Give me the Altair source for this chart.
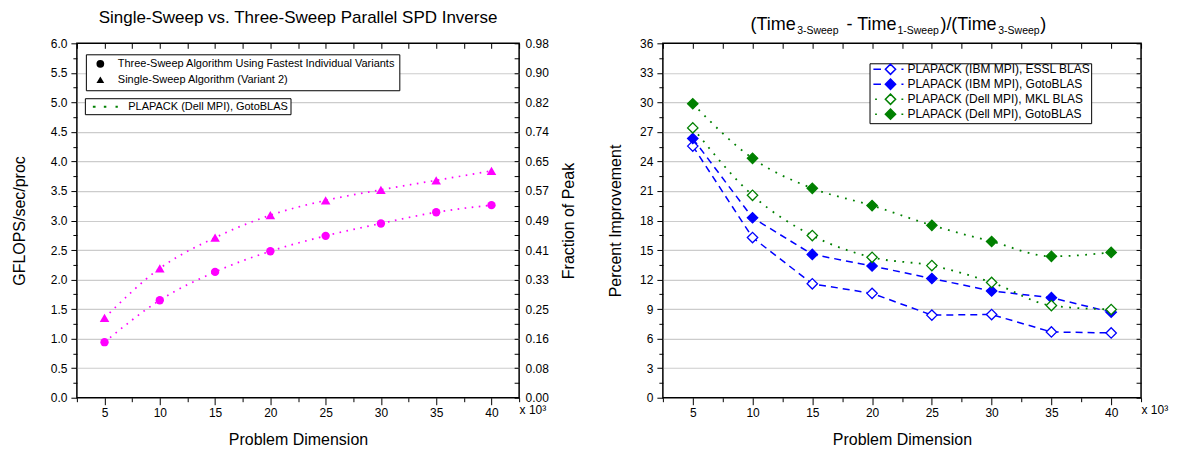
import altair as alt
import pandas as pd

FONT = "Liberation Sans"

# ---------------- data ----------------
dims = [5, 10, 15, 20, 25, 30, 35, 40]

left_series = [
    "Three-Sweep Algorithm Using Fastest Individual Variants",
    "Single-Sweep Algorithm (Variant 2)",
]
three_sweep_gflops = [0.94, 1.65, 2.13, 2.48, 2.74, 2.95, 3.14, 3.26]
single_sweep_gflops = [1.35, 2.19, 2.71, 3.09, 3.34, 3.52, 3.68, 3.84]
left_platform = ["PLAPACK (Dell MPI), GotoBLAS"]
peak_gflops = 6.12

right_series = [
    "PLAPACK (IBM MPI), ESSL BLAS",
    "PLAPACK (IBM MPI), GotoBLAS",
    "PLAPACK (Dell MPI), MKL BLAS",
    "PLAPACK (Dell MPI), GotoBLAS",
]
ibm_essl = [25.56, 16.27, 11.57, 10.60, 8.39, 8.45, 6.68, 6.58]
ibm_goto = [26.33, 18.28, 14.56, 13.38, 12.11, 10.84, 10.16, 8.69]
dell_mkl = [27.41, 20.56, 16.47, 14.26, 13.42, 11.71, 9.36, 8.96]
dell_goto = [29.86, 24.32, 21.27, 19.52, 17.51, 15.87, 14.36, 14.76]

left_title = "Single-Sweep vs. Three-Sweep Parallel SPD Inverse"
right_title_parts = ["(Time", "3-Sweep", "- Time", "1-Sweep", ")/(Time", "3-Sweep", ")"]
x_title = "Problem Dimension"
left_y_title = "GFLOPS/sec/proc"
left_y2_title = "Fraction of Peak"
right_y_title = "Percent Improvement"
x_unit_label = "x 10\u00b3"

# ---------------- tables ----------------
left_df = pd.DataFrame({
    "dim": dims * 2,
    "gflops": three_sweep_gflops + single_sweep_gflops,
    "series": [left_series[0]] * len(dims) + [left_series[1]] * len(dims),
})
right_vals = [ibm_essl, ibm_goto, dell_mkl, dell_goto]
right_df = pd.DataFrame({
    "dim": dims * 4,
    "pct": [v for s in right_vals for v in s],
    "series": [name for name in right_series for _ in dims],
})

# ---------------- styling helpers ----------------
MAGENTA = "#FF00FF"
BLUE = "#0000FF"
GREEN = "#008000"

X_TICKS = [2.5 * i for i in range(1, 18)]
Y_TICKS_L = [0.25 * i for i in range(25)]
Y_TICKS_R = [1.5 * i for i in range(25)]

x_scale = alt.Scale(domain=[2.5, 42.5], nice=False, zero=False)
yl_scale = alt.Scale(domain=[0, 6], nice=False)
yr_scale = alt.Scale(domain=[0, 36], nice=False)

NB = "\u00a0"


def bottom_axis():
    return alt.Axis(
        orient="bottom", values=X_TICKS, title=x_title,
        labelExpr=f"datum.value == 42.5 ? '{NB}{NB}{x_unit_label}' : (datum.value % 5 == 0 ? format(datum.value, 'd') : '')",
        labelAlign={"condition": {"test": "datum.value == 42.5", "value": "left"}, "value": "center"},
        labelOverlap=False, labelFlush=False, labelBound=False,
        tickSize={"condition": {"test": "datum.value % 5 != 0", "value": 4}, "value": 7},
        labelPadding=3, titlePadding=13, domain=False, grid=False,
    )


def top_axis():
    return alt.Axis(orient="top", values=X_TICKS, labels=False, title=None,
                    tickSize=5, offset=-5, domain=False, grid=False)


def left_axis(ticks, step, top, fmt, title, title_pad):
    minor = f"datum.value % {step} != 0"
    return alt.Axis(
        orient="left", values=ticks, title=title,
        labelExpr=f"datum.value % {step} == 0 ? format(datum.value, '{fmt}') : ''",
        tickSize={"condition": {"test": minor, "value": 4}, "value": 6},
        labelPadding=4, titlePadding=title_pad, domain=False, labelOverlap=False, labelFlush=False,
        grid=True,
        gridOpacity={"condition": {"test": f"{minor} || datum.value <= 0 || datum.value >= {top}", "value": 0}, "value": 1},
    )


# ---------------- left chart ----------------
left_lines = alt.Chart(left_df).mark_line(
    color=MAGENTA, strokeDash=[1.6, 5.5], strokeWidth=1.7, interpolate="monotone"
).encode(
    x=alt.X("dim:Q", scale=x_scale, axis=bottom_axis()),
    y=alt.Y("gflops:Q", scale=yl_scale, axis=left_axis(Y_TICKS_L, 0.5, 6, ".1f", left_y_title, 23)),
    detail="series:N",
)

left_points = alt.Chart(left_df).mark_point(filled=True, color=MAGENTA, opacity=1).encode(
    x=alt.X("dim:Q", scale=x_scale, axis=top_axis()),
    y=alt.Y("gflops:Q", scale=yl_scale, axis=alt.Axis(
        orient="right", values=Y_TICKS_L, title=left_y2_title,
        labelExpr=f"datum.value % 0.5 == 0 ? format(datum.value / {peak_gflops}, '.2f') : ''",
        tickSize=5, offset=-5, labelPadding=6, titlePadding=12,
        titleAngle=270, titleBaseline="top",
        domain=False, grid=False, labelOverlap=False, labelFlush=False)),
    shape=alt.Shape("series:N", scale=alt.Scale(domain=left_series, range=["circle", "triangle-up"]), legend=None),
    size=alt.Size("series:N", scale=alt.Scale(domain=left_series, range=[70, 92]), legend=None),
)

left_leg1 = alt.Chart(left_df).transform_filter("false").mark_point(
    filled=True, color="black", opacity=1
).encode(
    shape=alt.Shape("series:N", scale=alt.Scale(domain=left_series, range=["circle", "triangle-up"]),
                    legend=alt.Legend(title=None, orient="none", legendX=9, legendY=11,
                                      symbolSize=60, padding=4, symbolOffset=5, labelOffset=12,
                                      rowPadding=2, labelFontSize=11, labelFont=FONT, labelColor="black",
                                      strokeColor="black", fillColor="white", labelLimit=500)),
)

dots_path = "M-2.5,0H-1.96M-0.3,0H0.2M2.04,0H2.5"
left_leg2 = alt.Chart(left_df).transform_filter("false").mark_point(
    filled=False, color=GREEN, strokeWidth=2, opacity=1
).encode(
    shape=alt.Shape("platform:N", scale=alt.Scale(domain=left_platform, range=[dots_path]),
                    legend=alt.Legend(title=None, orient="none", legendX=8, legendY=55,
                                      symbolSize=100, symbolStrokeWidth=2, padding=2.5,
                                      symbolOffset=12, labelOffset=17, labelFontSize=11,
                                      labelFont=FONT, labelColor="black", strokeColor="black",
                                      fillColor="white", labelLimit=500)),
)

left_chart = alt.layer(left_lines, left_points, left_leg1, left_leg2).resolve_scale(
    shape="independent"
).resolve_axis(x="independent", y="independent").properties(
    width=443, height=355,
    title=alt.Title(left_title, fontSize=17, font=FONT, fontWeight="normal", color="black",
                    frame="group", offset=10, anchor="middle"),
)

# ---------------- right chart ----------------
color_scale = alt.Scale(domain=right_series, range=[BLUE, BLUE, GREEN, GREEN])
fill_scale = alt.Scale(domain=right_series, range=["white", BLUE, "white", GREEN])

blue_lines = alt.Chart(right_df).transform_filter(
    alt.FieldOneOfPredicate(field="series", oneOf=right_series[:2])
).mark_line(strokeDash=[7, 5], strokeWidth=1.5).encode(
    x=alt.X("dim:Q", scale=x_scale, axis=bottom_axis()),
    y=alt.Y("pct:Q", scale=yr_scale, axis=left_axis(Y_TICKS_R, 3, 36, "d", right_y_title, 16)),
    color=alt.Color("series:N", scale=color_scale, legend=None),
)

green_lines = alt.Chart(right_df).transform_filter(
    alt.FieldOneOfPredicate(field="series", oneOf=right_series[2:])
).mark_line(strokeDash=[1.8, 6.5], strokeWidth=1.8, interpolate="monotone").encode(
    x=alt.X("dim:Q", scale=x_scale, axis=None),
    y=alt.Y("pct:Q", scale=yr_scale, axis=None),
    color=alt.Color("series:N", scale=color_scale, legend=None),
)

right_points = alt.Chart(right_df).mark_point(
    shape="diamond", filled=False, size=108, strokeWidth=1.3, opacity=1
).encode(
    x=alt.X("dim:Q", scale=x_scale, axis=top_axis()),
    y=alt.Y("pct:Q", scale=yr_scale, axis=alt.Axis(
        orient="right", values=Y_TICKS_R, labels=False, title=None,
        tickSize=5, offset=-5, domain=False, grid=False)),
    color=alt.Color("series:N", scale=color_scale, legend=None),
    fill=alt.Fill("series:N", scale=fill_scale, legend=None),
)

dash_diamond = "M-3.34,0H-1.86M0,-1L1,0L0,1L-1,0ZM2.14,0H2.54"
dot_diamond = "M-3.0,0H-2.66M0,-1L1,0L0,1L-1,0ZM2.14,0H2.5"
right_legend = alt.Legend(title=None, orient="none", legendX=207, legendY=20,
                          symbolSize=105, symbolStrokeWidth=1.5, symbolFillColor="white",
                          padding=0, symbolOffset=15, labelOffset=11, rowPadding=-4,
                          labelFontSize=12, labelFont=FONT, labelColor="black",
                          strokeColor="black", fillColor="white", labelLimit=500)
right_leg = alt.Chart(right_df).transform_filter("false").mark_point(
    filled=False, strokeWidth=1.5, opacity=1
).encode(
    color=alt.Color("series:N", scale=color_scale, legend=right_legend),
    fill=alt.Fill("series:N", scale=fill_scale, legend=right_legend),
    shape=alt.Shape("series:N", scale=alt.Scale(domain=right_series,
                                                range=[dash_diamond, dash_diamond, dot_diamond, dot_diamond]),
                    legend=right_legend),
)

# title pieces with subscripts (positions relative to the plot area)
piece_x = [87.7, 134.5, 184, 235, 278, 336, 378]
piece_sub = [False, True, False, True, False, True, False]
title_layers = []
for txt, px, sub in zip(right_title_parts, piece_x, piece_sub):
    title_layers.append(
        alt.Chart(alt.Data(values=[{"t": txt}])).mark_text(
            align="left", baseline="alphabetic", font=FONT, color="black",
            fontSize=10.5 if sub else 18,
        ).encode(text="t:N", x=alt.value(px), y=alt.value(-9.3 if sub else -13.7))
    )

right_chart = alt.layer(blue_lines, green_lines, right_points, right_leg, *title_layers).resolve_scale(
    color="independent", fill="independent", shape="independent"
).resolve_axis(
    x="independent", y="independent"
).properties(width=479, height=355)

chart = alt.hconcat(left_chart, right_chart, spacing=144, bounds="flush").configure_axis(
    labelFont=FONT, titleFont=FONT, labelFontSize=12, titleFontSize=16,
    labelColor="black", titleColor="black", tickColor="black", tickWidth=1,
    titleFontWeight="normal", gridColor="#cccccc", gridWidth=1.2,
).configure_view(stroke="black", strokeWidth=1.5).properties(
    padding={"left": 2, "top": 0, "right": 5, "bottom": 0}
)

chart.save("out.html", embed_options={"renderer": "svg", "actions": False})
